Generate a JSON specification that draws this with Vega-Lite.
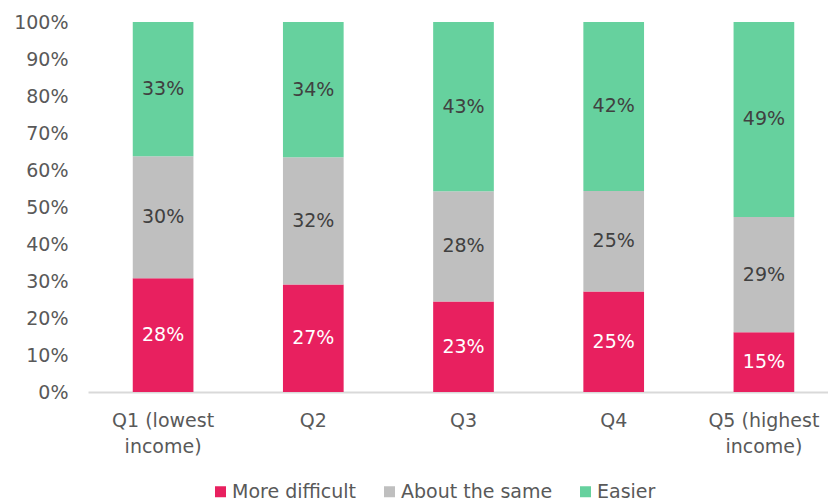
{
  "$schema": "https://vega.github.io/schema/vega-lite/v6.json",
  "autosize": {"type": "none"},
  "width": 740,
  "height": 370,
  "padding": {"left": 88, "top": 22, "right": 0, "bottom": 109},
  "background": "white",
  "config": {
    "view": {"stroke": null},
    "font": "DejaVu Sans",
    "axisY": {"labelOverlap": false, "labelFlush": false}
  },
  "data": {
    "values": [
      {"quintile": "Q1 (lowest income)", "response": "More difficult", "order": 1, "share": 0.28},
      {"quintile": "Q1 (lowest income)", "response": "About the same", "order": 2, "share": 0.30},
      {"quintile": "Q1 (lowest income)", "response": "Easier", "order": 3, "share": 0.33},
      {"quintile": "Q2", "response": "More difficult", "order": 1, "share": 0.27},
      {"quintile": "Q2", "response": "About the same", "order": 2, "share": 0.32},
      {"quintile": "Q2", "response": "Easier", "order": 3, "share": 0.34},
      {"quintile": "Q3", "response": "More difficult", "order": 1, "share": 0.23},
      {"quintile": "Q3", "response": "About the same", "order": 2, "share": 0.28},
      {"quintile": "Q3", "response": "Easier", "order": 3, "share": 0.43},
      {"quintile": "Q4", "response": "More difficult", "order": 1, "share": 0.25},
      {"quintile": "Q4", "response": "About the same", "order": 2, "share": 0.25},
      {"quintile": "Q4", "response": "Easier", "order": 3, "share": 0.42},
      {"quintile": "Q5 (highest income)", "response": "More difficult", "order": 1, "share": 0.15},
      {"quintile": "Q5 (highest income)", "response": "About the same", "order": 2, "share": 0.29},
      {"quintile": "Q5 (highest income)", "response": "Easier", "order": 3, "share": 0.49}
    ]
  },
  "transform": [
    {"stack": "share", "groupby": ["quintile"], "sort": [{"field": "order", "order": "ascending"}], "as": ["y0", "y1"], "offset": "normalize"},
    {"calculate": "(datum.y0 + datum.y1) / 2", "as": "ymid"}
  ],
  "encoding": {
    "x": {
      "field": "quintile",
      "type": "nominal",
      "sort": null,
      "scale": {"range": [0, 751], "paddingInner": 0.596, "paddingOuter": 0.298},
      "axis": {
        "title": null,
        "labelAngle": 0,
        "ticks": false,
        "domainColor": "#D9D9D9",
        "domainWidth": 2,
        "labelPadding": 19,
        "labelFontSize": 19,
        "labelColor": "#595959",
        "labelLineHeight": 26,
        "labelExpr": "indexof(datum.label, ' income)') > 0 ? [replace(datum.label, ' income)', ''), 'income)'] : datum.label"
      }
    }
  },
  "layer": [
    {
      "mark": {"type": "bar"},
      "encoding": {
        "y": {
          "field": "y0",
          "type": "quantitative",
          "scale": {"domain": [0, 1], "nice": false},
          "axis": {
            "title": null,
            "format": ".0%",
            "tickCount": 10,
            "labelOverlap": false,
            "labelFlush": false,
            "domain": false,
            "ticks": false,
            "grid": false,
            "labelPadding": 20,
            "labelFontSize": 19,
            "labelColor": "#595959"
          }
        },
        "y2": {"field": "y1"},
        "color": {
          "field": "response",
          "type": "nominal",
          "scale": {"domain": ["More difficult", "About the same", "Easier"], "range": ["#E8205F", "#BFBFBF", "#66D19E"]},
          "legend": {
            "orient": "none",
            "legendX": 123,
            "legendY": 460,
            "direction": "horizontal",
            "title": null,
            "symbolType": "square",
            "symbolSize": 121,
            "symbolStrokeWidth": 0,
            "labelFontSize": 19,
            "labelColor": "#595959",
            "columnPadding": 23,
            "labelOffset": 2,
            "padding": 0
          }
        }
      }
    },
    {
      "mark": {"type": "text", "fontSize": 19},
      "encoding": {
        "y": {"field": "ymid", "type": "quantitative"},
        "text": {"field": "share", "type": "quantitative", "format": ".0%"},
        "color": {"condition": {"test": "datum.response === 'More difficult'", "value": "white"}, "value": "#404040"}
      }
    }
  ]
}
